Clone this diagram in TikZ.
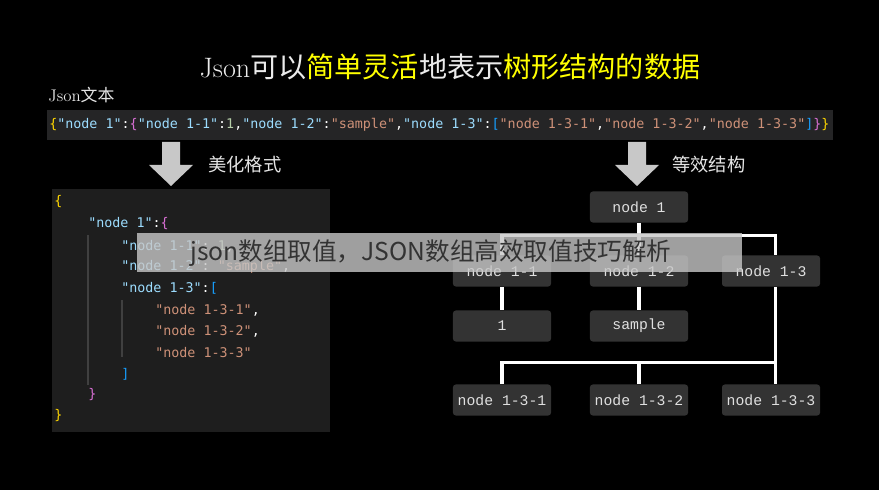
\documentclass[tikz,border=0pt]{standalone}
\usepackage{fontspec}
\setmonofont{DejaVu Sans Mono}
\newfontfamily\cjk{Noto Sans CJK SC}
\newfontfamily\treefont{Liberation Mono}
\usetikzlibrary{positioning}

\definecolor{panelbg}{HTML}{1E1E1E}
\definecolor{barbg}{HTML}{252526}
\definecolor{keyblue}{HTML}{9CDCFE}
\definecolor{strbrown}{HTML}{CE9178}
\definecolor{numgreen}{HTML}{B5CEA8}
\definecolor{braceyel}{HTML}{FFD700}
\definecolor{bracepur}{HTML}{DA70D6}
\definecolor{brackblue}{HTML}{179FFF}
\definecolor{boxgray}{HTML}{333333}
\definecolor{arrowgray}{HTML}{C8C8C8}
\definecolor{titleyel}{HTML}{FFFF00}

\newcommand{\ky}[1]{\textcolor{keyblue}{"#1"}}
\newcommand{\st}[1]{\textcolor{strbrown}{"#1"}}
\newcommand{\cl}{\textcolor{white}{:}}
\newcommand{\cm}{\textcolor{white}{,}}

\begin{document}
\begin{tikzpicture}[x=0.025cm, y=-0.025cm,
    treebox/.style={fill=boxgray, rounded corners=2pt, minimum width=2.45cm, minimum height=0.775cm, text=white!88!black, font=\treefont\fontsize{10.5}{12}\selectfont, inner sep=0pt},
    codeline/.style={anchor=west, inner sep=0pt, font=\ttfamily\fontsize{9.5}{11}\selectfont},
    link/.style={draw=white, line width=2.2pt},
    label/.style={anchor=west, inner sep=0pt, text=white!90!black, font=\cjk\fontsize{13}{15}\selectfont}
]
\useasboundingbox (0,0) rectangle (879,490);
\fill[black] (0,0) rectangle (879,490);

% title and labels
\node[inner sep=0pt, text=white!92!black, font=\fontsize{20}{24}\selectfont] (title) at (450,67)
  {Json{\cjk 可以\textcolor{titleyel}{简单灵活}地表示\textcolor{titleyel}{树形结构的数据}}};
\node[label, font=\fontsize{12}{14}\selectfont] (jtext) at (48,95) {Json{\cjk 文本}};

% one-line json
\fill[barbg] (47,110) rectangle (833,140);
\node[codeline] (flat) at (49,125)
  {\textcolor{braceyel}{\{}\ky{node 1}\cl\textcolor{bracepur}{\{}\ky{node 1-1}\cl\textcolor{numgreen}{1}\cm\ky{node 1-2}\cl\st{sample}\cm\ky{node 1-3}\cl\textcolor{brackblue}{[}\st{node 1-3-1}\cm\st{node 1-3-2}\cm\st{node 1-3-3}\textcolor{brackblue}{]}\textcolor{bracepur}{\}}\textcolor{braceyel}{\}}};

% block arrows
\foreach \ax in {171,637}
  \fill[arrowgray] (\ax-9,142) -- (\ax+9,142) -- (\ax+9,165) -- (\ax+22,165)
    -- (\ax,186) -- (\ax-22,165) -- (\ax-9,165) -- cycle;
\node[label] (pretty) at (208,165) {美化格式};
\node[label] (equiv) at (672,165) {等效结构};

% formatted json
\fill[panelbg] (52,189) rectangle (330,432);
\draw[white!25!black, line width=0.8pt] (88,235) -- (88,385);
\draw[white!25!black, line width=0.8pt] (122,300) -- (122,357);
\node[codeline] (c1) at (54,202) {\textcolor{braceyel}{\{}};
\node[codeline] (c2) at (88,224) {\ky{node 1}\cl\textcolor{bracepur}{\{}};
\node[codeline] (c3) at (121,246) {\ky{node 1-1}\cl{} \textcolor{numgreen}{1}\cm};
\node[codeline] (c4) at (121,267) {\ky{node 1-2}\cl{} \st{sample}\cm};
\node[codeline] (c5) at (121,288) {\ky{node 1-3}\cl\textcolor{brackblue}{[}};
\node[codeline] (c6) at (155,310) {\st{node 1-3-1}\cm};
\node[codeline] (c7) at (155,331) {\st{node 1-3-2}\cm};
\node[codeline] (c8) at (155,353) {\st{node 1-3-3}};
\node[codeline] (c9) at (121,374) {\textcolor{brackblue}{]}};
\node[codeline] (c10) at (88,395) {\textcolor{bracepur}{\}}};
\node[codeline] (c11) at (54,416) {\textcolor{braceyel}{\}}};

% tree
\node[treebox] (n1) at (639,207) {node 1};
\node[treebox] (n11) at (502,271) {node 1-1};
\node[treebox] (n12) at (639,271) {node 1-2};
\node[treebox] (n13) at (771,271) {node 1-3};
\node[treebox] (v1) at (502,326) {1};
\node[treebox] (v2) at (639,326) {sample};
\node[treebox] (n131) at (502,400) {node 1-3-1};
\node[treebox] (n132) at (639,400) {node 1-3-2};
\node[treebox] (n133) at (771,400) {node 1-3-3};

\draw[link] (n1.south) -- (n12.north);
\draw[link] (n11.north) -- ++(0,-20) -| ([xshift=3]n13.north);
\draw[link] (n11) -- (v1);
\draw[link] (n12) -- (v2);
\draw[link] ([xshift=3]n13.south) -- ([xshift=3]n133.north);
\draw[link] (n131.north) -- ++(0,-22) -| ([xshift=3]n133.north);
\draw[link] (n132.north) -- ++(0,-22);

% overlay caption
\fill[white!78!black, opacity=0.8] (137,233) rectangle (742,272);
\node[anchor=west, inner sep=0pt, text=black!80, font=\cjk\fontsize{17.5}{20}\selectfont] (caption) at (190,253)
  {json数组取值，JSON数组高效取值技巧解析};
\end{tikzpicture}
\end{document}
